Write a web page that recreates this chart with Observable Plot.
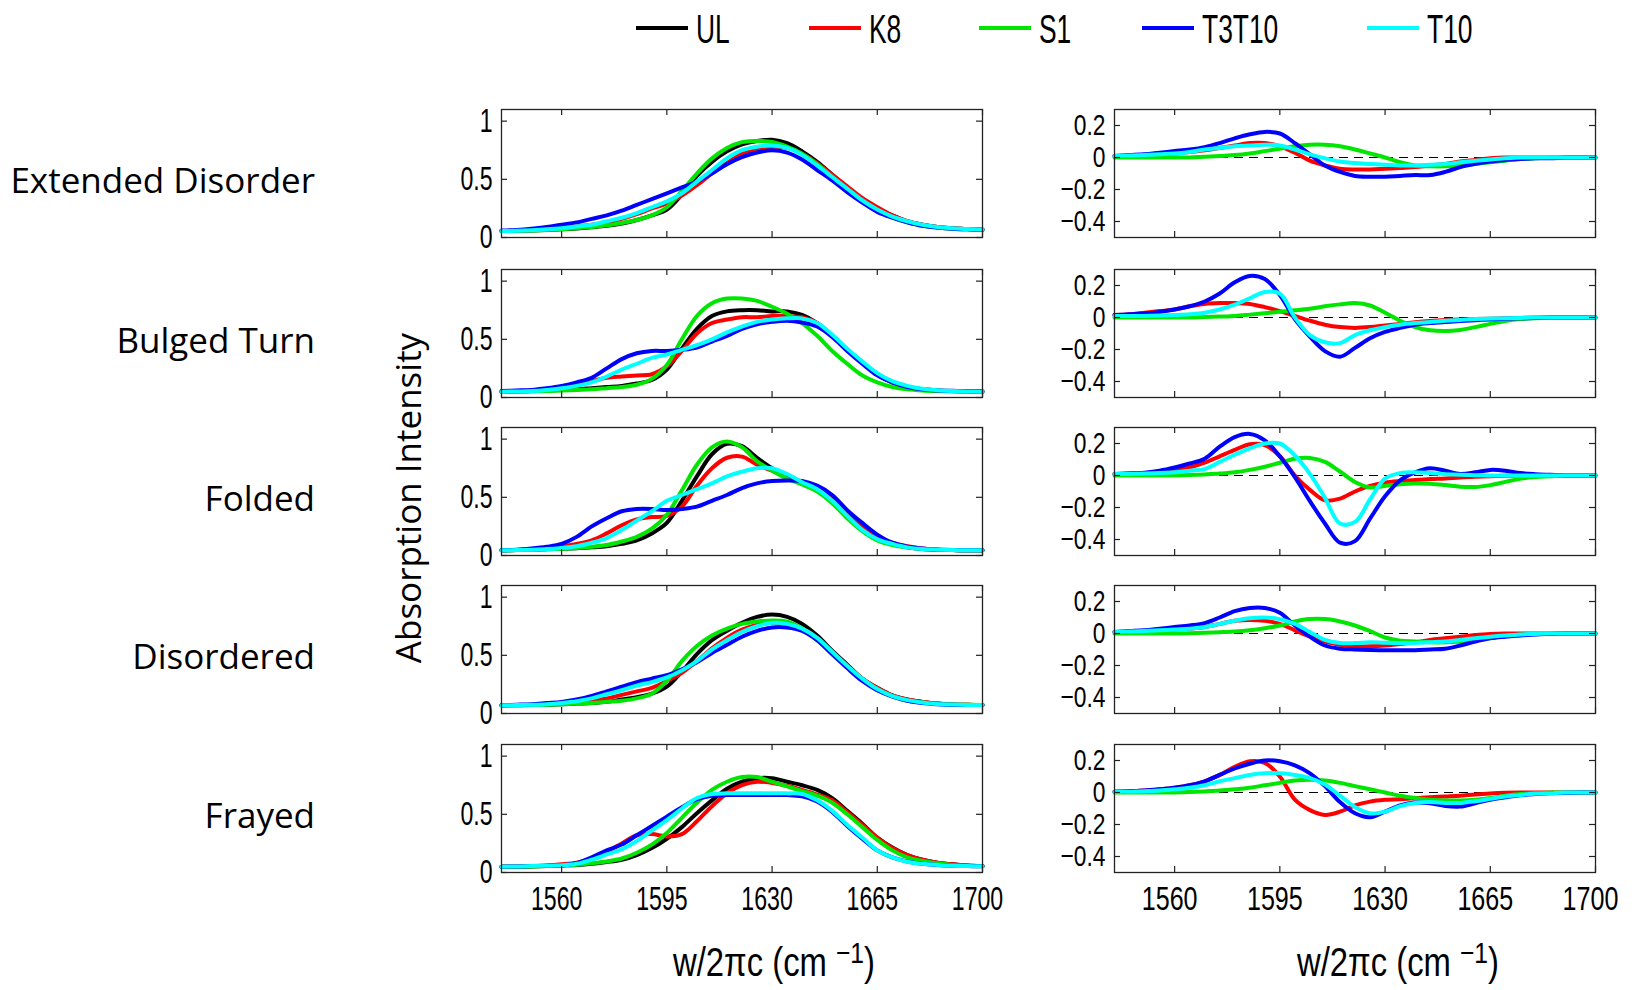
<!DOCTYPE html>
<html>
<head>
<meta charset="utf-8">
<script src="https://cdn.jsdelivr.net/npm/d3@7"></script>
<script src="https://cdn.jsdelivr.net/npm/@observablehq/plot@0.6"></script>
<style>
  body { margin: 0; background: #fff; }
  #chart { position: relative; width: 1636px; height: 990px; overflow: hidden; background: #fff; color: #000; }
  .abs { position: absolute; white-space: nowrap; line-height: 1; }
  .row-label { font-family: "Open Sans", "Noto Sans", sans-serif; font-size: 35px; transform: translateY(-50%); text-align: right; }
  .narrow { font-family: "Liberation Sans", Arial, sans-serif; }
  .panel { position: absolute; }
  sup { font-size: 0.75em; vertical-align: 0.45em; line-height: 0; }
</style>
</head>
<body>
<div id="chart"></div>
<script>
// ---------------- data ----------------
const wavenumbers = [1540,1545,1550,1555,1560,1565,1570,1575,1580,1585,1590,1595,1600,1605,1610,1615,1620,1625,1630,1635,1640,1645,1650,1655,1660,1665,1670,1675,1680,1685,1690,1695,1700];
const seriesNames = ["UL","K8","S1","T3T10","T10"];
const diffNames = ["K8","S1","T3T10","T10"];
const seriesColors = ["#000000","#ff0000","#00e600","#0000ff","#00ffff"];
const rowLabels = ["Extended Disorder","Bulged Turn","Folded","Disordered","Frayed"];
const absTicks = [0, 0.5, 1];
const diffTicks = [-0.4, -0.2, 0, 0.2];
const xTicks = [1560, 1595, 1630, 1665, 1700];

// absorption spectra, order: UL, K8, S1, T3T10, T10
const extendedDisorderAbs = [
  [.055,.057,.06,.065,.07,.078,.088,.10,.12,.15,.19,.24,.37,.53,.65,.74,.80,.83,.84,.81,.74,.65,.54,.43,.33,.25,.19,.14,.11,.09,.08,.072,.068],
  [.055,.058,.062,.07,.08,.095,.11,.13,.16,.2,.25,.29,.36,.45,.55,.64,.72,.76,.78,.77,.72,.64,.54,.44,.34,.26,.19,.14,.11,.09,.08,.072,.068],
  [.055,.057,.06,.065,.07,.08,.09,.105,.125,.15,.19,.26,.40,.55,.68,.77,.82,.83,.82,.78,.72,.63,.52,.41,.31,.23,.17,.13,.10,.085,.075,.07,.067],
  [.06,.065,.075,.09,.11,.13,.16,.19,.23,.28,.33,.38,.43,.48,.55,.63,.69,.73,.75,.73,.67,.58,.49,.39,.30,.22,.17,.13,.10,.085,.075,.07,.067],
  [.055,.058,.063,.07,.08,.095,.11,.14,.17,.21,.26,.31,.38,.48,.58,.68,.75,.78,.79,.77,.71,.62,.52,.42,.32,.24,.18,.14,.11,.09,.08,.072,.068]
];
const bulgedTurnAbs = [
  [.05,.05,.055,.06,.065,.07,.08,.09,.10,.12,.15,.24,.42,.59,.70,.74,.75,.75,.74,.74,.71,.64,.53,.41,.30,.20,.13,.09,.07,.06,.055,.052,.05],
  [.05,.055,.06,.07,.09,.11,.14,.17,.18,.19,.20,.27,.40,.55,.64,.67,.69,.69,.70,.70,.69,.64,.53,.41,.30,.20,.13,.09,.07,.06,.055,.052,.05],
  [.05,.05,.052,.055,.06,.065,.07,.08,.09,.11,.16,.28,.50,.70,.81,.85,.85,.83,.78,.72,.64,.53,.40,.29,.19,.13,.09,.07,.06,.055,.052,.05,.05],
  [.055,.06,.065,.08,.10,.13,.17,.25,.33,.38,.40,.40,.41,.43,.48,.53,.59,.63,.65,.66,.645,.61,.52,.40,.29,.19,.13,.09,.07,.06,.057,.055,.053],
  [.05,.052,.055,.065,.08,.10,.13,.18,.24,.29,.34,.37,.41,.45,.50,.56,.61,.65,.67,.68,.68,.64,.54,.42,.31,.21,.14,.10,.075,.063,.056,.052,.05]
];
const foldedAbs = [
  [.045,.047,.05,.053,.057,.063,.07,.08,.10,.13,.19,.28,.47,.68,.87,.96,.94,.84,.75,.68,.62,.57,.48,.36,.24,.15,.10,.07,.055,.05,.047,.045,.045],
  [.045,.048,.055,.065,.08,.10,.13,.19,.26,.31,.33,.34,.42,.60,.75,.84,.85,.78,.73,.67,.62,.57,.48,.36,.25,.16,.11,.08,.06,.05,.047,.045,.045],
  [.045,.047,.05,.053,.058,.065,.075,.09,.12,.16,.23,.35,.56,.78,.93,.98,.93,.81,.73,.66,.61,.55,.45,.32,.21,.13,.09,.07,.055,.05,.047,.045,.045],
  [.045,.05,.06,.075,.10,.16,.25,.32,.38,.40,.40,.39,.40,.42,.47,.52,.58,.62,.64,.645,.64,.60,.52,.39,.28,.18,.11,.075,.06,.05,.047,.045,.045],
  [.045,.047,.05,.055,.065,.08,.11,.15,.22,.30,.38,.47,.52,.57,.62,.68,.72,.75,.75,.70,.63,.57,.47,.34,.22,.14,.10,.07,.055,.05,.047,.045,.045]
];
const disorderedAbs = [
  [.07,.07,.072,.075,.08,.085,.09,.10,.12,.14,.17,.23,.36,.51,.63,.71,.78,.83,.85,.83,.77,.67,.54,.42,.30,.22,.155,.12,.10,.085,.078,.075,.073],
  [.07,.072,.075,.08,.085,.095,.11,.13,.16,.19,.22,.28,.35,.45,.56,.65,.72,.76,.78,.77,.73,.65,.53,.41,.30,.22,.155,.12,.10,.085,.078,.075,.073],
  [.07,.07,.072,.075,.08,.085,.09,.10,.11,.13,.17,.28,.45,.58,.67,.73,.77,.79,.80,.79,.73,.63,.51,.40,.29,.20,.15,.11,.095,.083,.077,.075,.073],
  [.07,.075,.08,.09,.10,.12,.15,.19,.23,.27,.30,.33,.38,.44,.52,.59,.66,.71,.74,.74,.71,.63,.51,.39,.28,.20,.145,.11,.09,.08,.075,.073,.072],
  [.07,.072,.075,.08,.09,.105,.13,.165,.20,.24,.27,.31,.37,.45,.55,.63,.70,.75,.78,.77,.73,.65,.53,.41,.30,.21,.15,.115,.095,.082,.077,.074,.073]
];
const frayedAbs = [
  [.05,.05,.052,.055,.06,.065,.075,.09,.11,.15,.21,.29,.39,.51,.62,.72,.78,.81,.81,.78,.75,.71,.64,.53,.42,.30,.215,.15,.11,.085,.07,.06,.055],
  [.05,.052,.055,.06,.07,.085,.12,.18,.25,.32,.33,.31,.33,.44,.57,.68,.75,.78,.77,.745,.71,.67,.62,.52,.41,.30,.21,.15,.11,.085,.07,.06,.055],
  [.05,.05,.052,.055,.06,.067,.08,.095,.12,.17,.24,.34,.47,.60,.71,.78,.82,.82,.78,.74,.70,.66,.60,.50,.39,.28,.19,.13,.10,.08,.065,.058,.055],
  [.05,.052,.055,.058,.062,.08,.13,.19,.24,.32,.40,.48,.56,.63,.66,.665,.665,.665,.665,.665,.655,.61,.52,.40,.29,.19,.13,.095,.075,.065,.058,.055,.053],
  [.05,.052,.055,.058,.062,.075,.11,.155,.20,.27,.36,.45,.55,.64,.675,.68,.68,.68,.68,.68,.675,.62,.53,.41,.30,.19,.13,.093,.075,.065,.058,.055,.053]
];

// difference spectra, order: K8, S1, T3T10, T10
const extendedDisorderDiff = [
  [.01,.012,.015,.02,.025,.035,.045,.06,.075,.09,.09,.07,.03,-.02,-.05,-.07,-.075,-.075,-.07,-.065,-.06,-.05,-.04,-.025,-.015,-.005,0,0,0,0,0,0,0],
  [0,0,0,0,0,0,.005,.01,.015,.025,.04,.055,.07,.08,.08,.07,.05,.025,0,-.03,-.05,-.055,-.055,-.05,-.04,-.03,-.02,-.01,-.005,0,0,0,0],
  [.01,.015,.02,.03,.04,.05,.065,.09,.12,.145,.16,.15,.09,.02,-.05,-.09,-.115,-.12,-.12,-.115,-.11,-.11,-.09,-.06,-.04,-.025,-.015,-.01,-.005,-.005,0,0,0],
  [.01,.012,.015,.02,.025,.035,.05,.06,.07,.075,.08,.075,.05,.02,-.005,-.025,-.035,-.04,-.045,-.05,-.05,-.045,-.04,-.03,-.02,-.012,-.005,0,0,0,0,0,0]
];
const bulgedTurnDiff = [
  [.015,.02,.03,.04,.05,.07,.085,.09,.09,.085,.065,.04,.01,-.02,-.045,-.06,-.065,-.06,-.05,-.04,-.03,-.022,-.016,-.012,-.01,-.008,-.005,-.003,0,0,0,0,0],
  [0,0,0,0,0,0,.003,.006,.01,.018,.027,.036,.045,.055,.07,.082,.09,.075,.03,-.02,-.06,-.08,-.085,-.078,-.06,-.04,-.022,-.01,-.004,0,0,0,0],
  [.015,.02,.025,.035,.05,.07,.10,.15,.22,.26,.24,.14,-.01,-.12,-.21,-.245,-.19,-.13,-.09,-.065,-.045,-.035,-.028,-.022,-.017,-.012,-.008,-.005,-.003,0,0,0,0],
  [.01,.01,.01,.012,.015,.02,.03,.05,.08,.12,.16,.15,0,-.11,-.155,-.16,-.11,-.08,-.06,-.045,-.035,-.028,-.02,-.015,-.01,-.007,-.005,-.003,0,0,0,0,0]
];
const foldedDiff = [
  [.01,.012,.015,.02,.03,.05,.08,.12,.16,.195,.19,.12,0,-.09,-.155,-.145,-.10,-.065,-.045,-.035,-.028,-.022,-.018,-.012,-.008,-.005,-.002,0,0,0,0,0,0],
  [0,0,0,0,0,.003,.007,.012,.02,.035,.055,.08,.105,.11,.085,.025,-.04,-.075,-.065,-.055,-.05,-.052,-.06,-.07,-.072,-.06,-.04,-.02,-.01,-.005,0,0,0],
  [.01,.012,.018,.03,.05,.075,.105,.18,.24,.26,.22,.12,-.01,-.16,-.30,-.42,-.41,-.27,-.13,-.03,.02,.045,.03,.01,.02,.035,.03,.015,.008,.004,0,0,0],
  [.01,.01,.012,.015,.02,.03,.04,.085,.13,.17,.20,.20,.125,.01,-.14,-.30,-.29,-.15,-.02,.015,.02,.015,.008,.004,.002,0,0,0,0,0,0,0,0]
];
const disorderedDiff = [
  [.01,.012,.015,.02,.025,.03,.04,.06,.08,.085,.08,.06,.02,-.02,-.05,-.07,-.08,-.08,-.075,-.065,-.055,-.04,-.03,-.02,-.01,-.003,0,0,0,0,0,0,0],
  [0,0,0,0,0,.002,.005,.008,.012,.02,.033,.05,.075,.09,.09,.075,.05,.015,-.025,-.045,-.05,-.055,-.055,-.05,-.04,-.028,-.016,-.008,-.004,0,0,0,0],
  [.01,.015,.02,.03,.04,.05,.065,.10,.14,.16,.16,.13,.05,-.02,-.075,-.095,-.10,-.103,-.105,-.105,-.105,-.10,-.095,-.075,-.05,-.03,-.02,-.012,-.006,-.003,0,0,0],
  [.01,.012,.015,.02,.025,.03,.04,.06,.08,.095,.10,.09,.06,.01,-.04,-.06,-.06,-.055,-.058,-.06,-.06,-.055,-.05,-.04,-.03,-.02,-.012,-.006,-.003,0,0,0,0]
];
const frayedDiff = [
  [.005,.008,.012,.02,.03,.045,.07,.11,.16,.195,.185,.10,-.045,-.11,-.14,-.12,-.08,-.057,-.046,-.042,-.036,-.03,-.025,-.02,-.012,-.006,-.002,0,0,0,0,0,0],
  [0,0,0,0,0,.003,.007,.012,.02,.03,.045,.06,.075,.08,.075,.06,.04,.02,0,-.02,-.035,-.045,-.05,-.05,-.045,-.035,-.02,-.01,-.005,0,0,0,0],
  [.005,.008,.012,.02,.03,.045,.07,.11,.15,.18,.20,.195,.17,.12,.04,-.06,-.13,-.155,-.12,-.08,-.063,-.068,-.084,-.088,-.067,-.045,-.03,-.017,-.01,-.005,-.002,0,0],
  [.003,.005,.008,.012,.02,.03,.045,.07,.09,.11,.12,.12,.11,.09,.05,-.02,-.09,-.13,-.12,-.085,-.065,-.06,-.065,-.065,-.055,-.04,-.025,-.015,-.008,-.004,0,0,0]
];

const absPanels = [extendedDisorderAbs, bulgedTurnAbs, foldedAbs, disorderedAbs, frayedAbs];
const diffPanels = [extendedDisorderDiff, bulgedTurnDiff, foldedDiff, disorderedDiff, frayedDiff];

// ---------------- layout ----------------
const layout = {
  leftX: 501, rightX: 1114, panelW: 481, panelH: 128,
  tops: [109, 269, 427, 585, 744],
  mL: 120, mR: 42, mT: 10, mBottom: 70,
  tickFont: 33, diffTickFont: 30, squeeze: 0.7
};
const chart = document.getElementById("chart");
const narrowFont = '"Liberation Sans", Arial, sans-serif';

// condense tick labels like the reference (glyph squeeze, positions unchanged)
function squeezeText(svg, s) {
  svg.querySelectorAll("text").forEach(t => {
    const len = t.getComputedTextLength();
    if (len > 0) {
      t.setAttribute("textLength", (len * s).toFixed(2));
      t.setAttribute("lengthAdjust", "spacingAndGlyphs");
    }
  });
}

function makePanel(series, names, yDomain, yTicks, bottom, diff, left, top) {
  const W = layout.panelW, H = layout.panelH;
  const mB = bottom ? layout.mBottom : layout.mT;
  const rows = [];
  series.forEach((vals, i) => vals.forEach((v, j) => rows.push({w: wavenumbers[j], a: v, s: names[i]})));
  const fmt = d => d < 0 ? "\u2212" + Math.abs(d) : String(d);
  const marks = [];
  if (diff) marks.push(Plot.ruleY([0], {stroke: "#000", strokeWidth: 1.2, strokeDasharray: "9,6"}));
  marks.push(Plot.line(rows, {x: "w", y: "a", z: "s", stroke: "s", strokeWidth: 4, curve: "catmull-rom", strokeLinejoin: "round"}));
  const tk = {stroke: "#222", strokeWidth: 1.2};
  marks.push(Plot.tickY(yTicks, {y: d => d, insetRight: W - 6, ...tk}));
  marks.push(Plot.tickY(yTicks, {y: d => d, insetLeft: W - 6, ...tk}));
  marks.push(Plot.tickX(xTicks, {x: d => d, insetTop: H - 6, ...tk}));
  marks.push(Plot.tickX(xTicks, {x: d => d, insetBottom: H - 6, ...tk}));
  const yFont = diff ? layout.diffTickFont : layout.tickFont;
  marks.push(Plot.axisY({ticks: yTicks, tickSize: 0, tickPadding: 9, tickFormat: fmt, label: null, fontSize: yFont}));
  if (bottom) marks.push(Plot.axisX({ticks: xTicks, tickSize: 0, tickPadding: 14, dx: -5, tickFormat: d => String(d), label: null, fontSize: layout.tickFont}));
  marks.push(Plot.frame({stroke: "#222", strokeWidth: 1.3}));
  const svg = Plot.plot({
    width: W + layout.mL + layout.mR,
    height: H + layout.mT + mB,
    marginLeft: layout.mL, marginRight: layout.mR, marginTop: layout.mT, marginBottom: mB,
    x: {domain: [1540, 1700], axis: bottom ? undefined : null},
    y: {domain: yDomain},
    color: {domain: seriesNames, range: seriesColors},
    style: {fontFamily: narrowFont, fontSize: layout.tickFont + "px", color: "#000", background: "transparent", overflow: "visible"},
    marks
  });
  svg.classList.add("panel");
  svg.style.left = (left - layout.mL) + "px";
  svg.style.top = (top - layout.mT) + "px";
  chart.appendChild(svg);
  squeezeText(svg, diff ? 0.76 : layout.squeeze);
}

layout.tops.forEach((top, r) => {
  const bottom = r === layout.tops.length - 1;
  makePanel(absPanels[r], seriesNames, [0, 1.1], absTicks, bottom, false, layout.leftX, top);
  makePanel(diffPanels[r], diffNames, [-0.5, 0.3], diffTicks, bottom, true, layout.rightX, top);
  const lab = document.createElement("div");
  lab.className = "abs row-label";
  lab.style.right = (1636 - 315) + "px";
  lab.style.top = (top + layout.panelH / 2 + 6) + "px";
  lab.textContent = rowLabels[r];
  chart.appendChild(lab);
});

// y title
const yt = document.createElement("div");
yt.className = "abs";
yt.style.cssText += "left:407px;top:498px;font-family:'Open Sans','Noto Sans',sans-serif;font-size:35px;transform:translate(-50%,-50%) rotate(-90deg);";
yt.textContent = "Absorption Intensity";
chart.appendChild(yt);

// x titles
[774, 1398].forEach(cx => {
  const xt = document.createElement("div");
  xt.className = "abs narrow";
  xt.style.cssText += `left:${cx}px;top:962px;font-size:40px;line-height:1.1;transform:translate(-50%,-50%) scaleX(0.82);`;
  xt.innerHTML = "w/2\u03c0c (cm <sup>\u22121</sup>)";
  chart.appendChild(xt);
});

// legend
const legendX = [636, 809, 979, 1142, 1367];
seriesNames.forEach((n, i) => {
  const ln = document.createElement("div");
  ln.className = "abs";
  ln.style.cssText += `left:${legendX[i]}px;top:26px;width:52px;height:4px;background:${seriesColors[i]};`;
  chart.appendChild(ln);
  const tx = document.createElement("div");
  tx.className = "abs narrow";
  tx.style.cssText += `left:${legendX[i] + 60}px;top:29px;font-size:40px;transform:translateY(-50%) scaleX(0.66);transform-origin:left center;`;
  tx.textContent = n;
  chart.appendChild(tx);
});
</script>
</body>
</html>
